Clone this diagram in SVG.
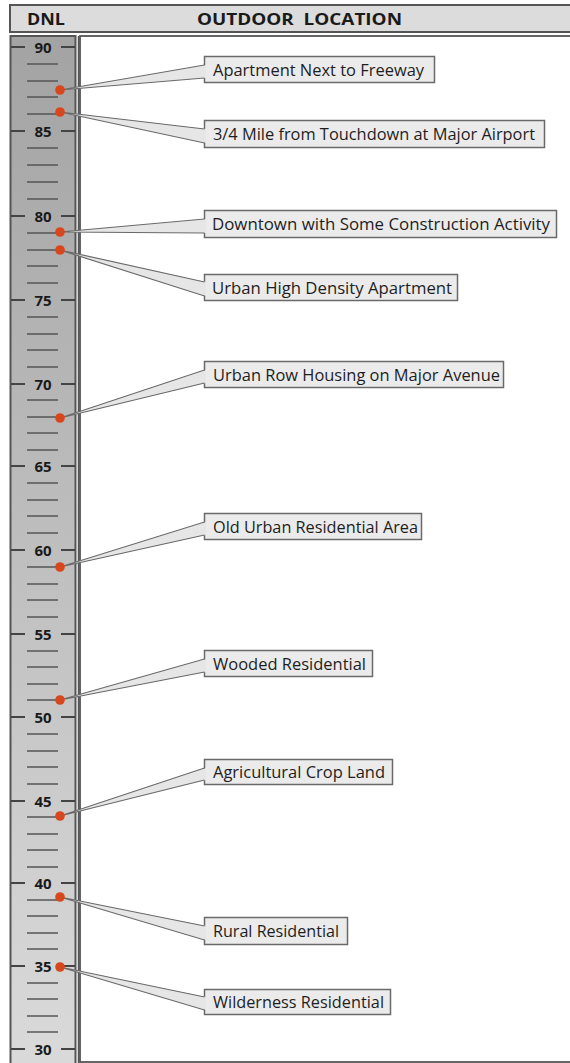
<svg xmlns="http://www.w3.org/2000/svg" width="570" height="1063" viewBox="0 0 570 1063">
<defs>
<linearGradient id="colgrad" x1="0" y1="0" x2="0" y2="1">
<stop offset="0" stop-color="#a3a3a3"/>
<stop offset="1" stop-color="#dadada"/>
</linearGradient>
<style>
.hdr{font-family:"Open Sans","Liberation Sans",sans-serif;font-weight:bold;font-size:16.5px;fill:#1a1a1a}
.num{font-family:"Open Sans","Liberation Sans",sans-serif;font-weight:bold;font-size:15px;fill:#1a1a1a;text-anchor:middle}
.maj{stroke:#444;stroke-width:2.2}
.min{stroke:#555;stroke-width:1.5}
.box{fill:#ebebeb;stroke:#6a6a6a;stroke-width:1.5}
.lbl{font-family:"Open Sans","Liberation Sans",sans-serif;font-size:16px;fill:#1e1e1e}
.wfill{fill:#e6e6e6;stroke:none}
.wline{fill:none;stroke:#6a6a6a;stroke-width:1.2;stroke-linejoin:round}
.dot{fill:#d8471c}
</style>
</defs>
<rect width="570" height="1063" fill="#ffffff"/>
<g id="header">
<rect x="10" y="5" width="565" height="27" fill="#dcdcdc" stroke="#555" stroke-width="2"/>
<text class="hdr" x="27" y="24.5" textLength="38" lengthAdjust="spacingAndGlyphs">DNL</text>
<text class="hdr" x="197" y="24.5" textLength="205" lengthAdjust="spacingAndGlyphs" xml:space="preserve">OUTDOOR  LOCATION</text>
</g>
<g id="frame">
<rect x="80" y="36" width="495" height="1026" fill="#ffffff" stroke="#555" stroke-width="1.8"/>
</g>
<g id="scale">
<rect x="10.5" y="36" width="65" height="1030" fill="url(#colgrad)" stroke="#555" stroke-width="2"/>
<line x1="78.5" y1="36" x2="78.5" y2="1063" stroke="#555" stroke-width="1.5"/>
<g id="major-ticks">
<path class="maj" d="M11 47H25M61 47H75M11 131H25M61 131H75M11 216H25M61 216H75M11 300H25M61 300H75M11 384H25M61 384H75M11 466H25M61 466H75M11 550H25M61 550H75M11 634H25M61 634H75M11 717H25M61 717H75M11 801H25M61 801H75M11 883H25M61 883H75M11 966H25M61 966H75M11 1049H25M61 1049H75"/>
</g>
<g id="minor-ticks">
<path class="min" d="M27 64H58M27 81H58M27 97H58M27 114H58M27 148H58M27 165H58M27 182H58M27 199H58M27 233H58M27 250H58M27 266H58M27 283H58M27 317H58M27 334H58M27 350H58M27 367H58M27 400H58M27 417H58M27 433H58M27 450H58M27 483H58M27 500H58M27 516H58M27 533H58M27 567H58M27 584H58M27 600H58M27 617H58M27 651H58M27 667H58M27 684H58M27 700H58M27 734H58M27 751H58M27 767H58M27 784H58M27 817H58M27 834H58M27 850H58M27 867H58M27 900H58M27 916H58M27 933H58M27 949H58M27 983H58M27 999H58M27 1016H58M27 1032H58"/>
</g>
<g id="scale-labels">
<text class="num" x="43" y="52.5">90</text>
<text class="num" x="43" y="136.5">85</text>
<text class="num" x="43" y="221.5">80</text>
<text class="num" x="43" y="305.5">75</text>
<text class="num" x="43" y="389.5">70</text>
<text class="num" x="43" y="471.5">65</text>
<text class="num" x="43" y="555.5">60</text>
<text class="num" x="43" y="639.5">55</text>
<text class="num" x="43" y="722.5">50</text>
<text class="num" x="43" y="806.5">45</text>
<text class="num" x="43" y="888.5">40</text>
<text class="num" x="43" y="971.5">35</text>
<text class="num" x="43" y="1054.5">30</text>
</g>
</g>
<g id="n1"><rect class="box" x="204.5" y="56.5" width="230" height="26"/><text class="lbl" x="213" y="75.5" textLength="211" lengthAdjust="spacingAndGlyphs">Apartment Next to Freeway</text></g>
<g id="n2"><rect class="box" x="204.5" y="120.5" width="340" height="27"/><text class="lbl" x="213" y="140" textLength="322" lengthAdjust="spacingAndGlyphs">3/4 Mile from Touchdown at Major Airport</text></g>
<g id="n3"><rect class="box" x="204.5" y="210.5" width="352" height="27"/><text class="lbl" x="212" y="230" textLength="338" lengthAdjust="spacingAndGlyphs">Downtown with Some Construction Activity</text></g>
<g id="n4"><rect class="box" x="204.5" y="274.5" width="253" height="26"/><text class="lbl" x="212" y="293.5" textLength="240" lengthAdjust="spacingAndGlyphs">Urban High Density Apartment</text></g>
<g id="n5"><rect class="box" x="204.5" y="361.5" width="299" height="26"/><text class="lbl" x="213" y="380.5" textLength="287" lengthAdjust="spacingAndGlyphs">Urban Row Housing on Major Avenue</text></g>
<g id="n6"><rect class="box" x="204.5" y="513.5" width="217" height="26"/><text class="lbl" x="213" y="532.5" textLength="205" lengthAdjust="spacingAndGlyphs">Old Urban Residential Area</text></g>
<g id="n7"><rect class="box" x="204.5" y="650.5" width="168" height="26"/><text class="lbl" x="213" y="669.5" textLength="153" lengthAdjust="spacingAndGlyphs">Wooded Residential</text></g>
<g id="n8"><rect class="box" x="204.5" y="759.5" width="188" height="25"/><text class="lbl" x="213" y="778" textLength="172" lengthAdjust="spacingAndGlyphs">Agricultural Crop Land</text></g>
<g id="n9"><rect class="box" x="204.5" y="917.5" width="143" height="27"/><text class="lbl" x="213" y="937" textLength="126" lengthAdjust="spacingAndGlyphs">Rural Residential</text></g>
<g id="n10"><rect class="box" x="204.5" y="989.5" width="186" height="25"/><text class="lbl" x="213" y="1008" textLength="171" lengthAdjust="spacingAndGlyphs">Wilderness Residential</text></g>
<g id="connectors">
<polygon class="wfill" points="60,90 206,65 206,78"/><polyline class="wline" points="204.5,65 60,90 204.5,78"/>
<polygon class="wfill" points="60,112 206,129 206,143"/><polyline class="wline" points="204.5,129 60,112 204.5,143"/>
<polygon class="wfill" points="60,232 206,219 206,233"/><polyline class="wline" points="204.5,219 60,232 204.5,233"/>
<polygon class="wfill" points="60,250 206,282 206,296"/><polyline class="wline" points="204.5,282 60,250 204.5,296"/>
<polygon class="wfill" points="60,418 206,370 206,383"/><polyline class="wline" points="204.5,370 60,418 204.5,383"/>
<polygon class="wfill" points="60,567 206,522 206,535"/><polyline class="wline" points="204.5,522 60,567 204.5,535"/>
<polygon class="wfill" points="60,700 206,659 206,672"/><polyline class="wline" points="204.5,659 60,700 204.5,672"/>
<polygon class="wfill" points="60,816 206,768 206,780"/><polyline class="wline" points="204.5,768 60,816 204.5,780"/>
<polygon class="wfill" points="60,897 206,926 206,940"/><polyline class="wline" points="204.5,926 60,897 204.5,940"/>
<polygon class="wfill" points="60,967 206,997 206,1010"/><polyline class="wline" points="204.5,997 60,967 204.5,1010"/>
<circle class="dot" cx="60" cy="90" r="4.8"/>
<circle class="dot" cx="60" cy="112" r="4.8"/>
<circle class="dot" cx="60" cy="232" r="4.8"/>
<circle class="dot" cx="60" cy="250" r="4.8"/>
<circle class="dot" cx="60" cy="418" r="4.8"/>
<circle class="dot" cx="60" cy="567" r="4.8"/>
<circle class="dot" cx="60" cy="700" r="4.8"/>
<circle class="dot" cx="60" cy="816" r="4.8"/>
<circle class="dot" cx="60" cy="897" r="4.8"/>
<circle class="dot" cx="60" cy="967" r="4.8"/>
</g>
</svg>
